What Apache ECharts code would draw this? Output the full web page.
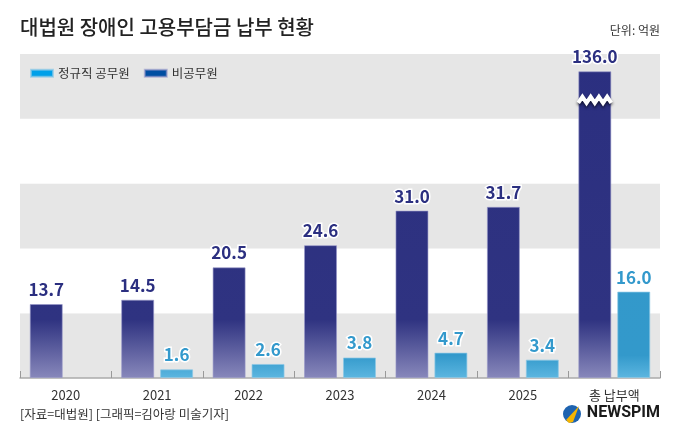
<!DOCTYPE html>
<html style="height: 100%">
<head>
<meta charset="utf-8">
</head>
<body style="height: 100%; margin: 0; background: #fff">
<div id="container" style="width: 680px; height: 442px"></div>
<script type="text/javascript" src="https://cdn.jsdelivr.net/npm/echarts@6/dist/echarts.min.js"></script>
<script type="text/javascript">
var categories = ['2020', '2021', '2022', '2023', '2024', '2025', '총 납부액'];
var nonCivil = [13.7, 14.5, 20.5, 24.6, 31.0, 31.7, 136.0];   // 비공무원
var civil = [null, 1.6, 2.6, 3.8, 4.7, 3.4, 16.0];             // 정규직 공무원
var yMax = 60;
var yStep = 12;
var capValue = 56.8;   // height the broken total bar is drawn to
var breakAt = 51.5;    // where the zigzag cuts the total bar

var font = '"Noto Sans CJK KR", "Noto Sans", sans-serif';
var navy = '#2b2f80';
var sky = '#3399cc';
var gridTop = 54, gridBottom = 64;

var dom = document.getElementById('container');
var myChart = echarts.init(dom, null, { renderer: 'canvas' });

// gradients are laid over the whole plot height, so every bar fades the same way near the base
var plotBottom = 442 - gridBottom;
var navyFill = new echarts.graphic.LinearGradient(0, gridTop, 0, plotBottom, [
    { offset: 0, color: '#2b2f80' },
    { offset: 0.82, color: '#2f3381' },
    { offset: 1, color: '#8888bb' }
], true);
var skyFill = new echarts.graphic.LinearGradient(0, gridTop, 0, plotBottom, [
    { offset: 0, color: '#3398c9' },
    { offset: 0.93, color: '#3399cb' },
    { offset: 1, color: '#5cb6e0' }
], true);

function labelStyle(color) {
    return {
        show: true,
        position: 'top',
        distance: 6,
        color: color,
        fontFamily: font,
        fontSize: 17,
        fontWeight: 'bold',
        textBorderColor: '#fff',
        textBorderWidth: 3
    };
}

var option = {
    animation: false,
    textStyle: { fontFamily: font },
    grid: { left: 20, right: 20, top: gridTop, bottom: gridBottom },
    legend: {
        data: [
            { name: '정규직 공무원', itemStyle: { color: '#00a0e9' } },
            { name: '비공무원', itemStyle: { color: '#004ea2' } }
        ],
        left: 25,
        top: 62,
        itemWidth: 22,
        itemHeight: 7,
        itemGap: 14,
        icon: 'rect',
        textStyle: { fontSize: 12.5, color: '#333', fontFamily: font }
    },
    xAxis: {
        type: 'category',
        data: categories,
        axisLine: { lineStyle: { color: '#aaa', width: 1.5 } },
        axisTick: { show: true, length: 7, inside: true, lineStyle: { color: '#999' } },
        axisLabel: { color: '#333', fontSize: 13, margin: 11, fontFamily: font }
    },
    yAxis: {
        type: 'value',
        min: 0,
        max: yMax,
        interval: yStep,
        axisLabel: { show: false },
        axisLine: { show: false },
        axisTick: { show: false },
        splitLine: { show: false },
        splitArea: { show: true, areaStyle: { color: ['#e6e6e6', '#ffffff'] } }
    },
    series: [
        {
            name: '비공무원',
            type: 'bar',
            barWidth: 33,
            barGap: '18%',
            data: nonCivil.map(function (v) { return Math.min(v, capValue); }),
            itemStyle: { color: navyFill, borderColor: 'rgba(150,150,200,0.6)', borderWidth: 1 },
            label: Object.assign(labelStyle(navy), {
                formatter: function (p) { return nonCivil[p.dataIndex].toFixed(1); }
            })
        },
        {
            name: '정규직 공무원',
            type: 'bar',
            barWidth: 33,
            data: civil,
            itemStyle: { color: skyFill, borderColor: 'rgba(140,200,230,0.7)', borderWidth: 1 },
            label: Object.assign(labelStyle(sky), {
                formatter: function (p) { return civil[p.dataIndex].toFixed(1); }
            })
        }
    ],
    graphic: [
        {
            type: 'text', left: 20, top: 17,
            style: { text: '대법원 장애인 고용부담금 납부 현황', fill: '#222', font: '500 20px ' + font }
        },
        {
            type: 'text', right: 20, top: 24,
            style: { text: '단위: 억원', fill: '#333', font: '12px ' + font }
        },
        {
            type: 'text', left: 20, top: 408,
            style: { text: '[자료=대법원] [그래픽=김아랑 미술기자]', fill: '#333', font: '12.5px ' + font }
        },
        {
            type: 'text', right: 20, top: 405,
            style: { text: 'NEWSPIM', fill: '#1a1a1a', font: 'bold 16px "Liberation Sans Narrow", "Roboto", sans-serif' }
        }
    ]
};
myChart.setOption(option);

// zigzag break on the total bar and the logo mark
var last = categories.length - 1;
var center = myChart.convertToPixel({ xAxisIndex: 0, yAxisIndex: 0 }, [last, breakAt]);
var barLeft = center[0] - 33 - 3;
var pts = [];
for (var i = 0; i <= 8; i++) {
    pts.push([barLeft + i * 33 / 8, center[1] + (i % 2 === 0 ? 3 : -3)]);
}
var logoX = myChart.getWidth() - 20 - 88;
myChart.setOption({
    graphic: option.graphic.concat([
        {
            type: 'polyline', z: 100,
            shape: { points: pts },
            style: { stroke: '#fff', lineWidth: 4, fill: null, shadowColor: 'rgba(0,0,0,0.6)', shadowBlur: 3, shadowOffsetY: 2 }
        },
        {
            type: 'circle', z: 100,
            shape: { cx: logoX, cy: 414, r: 9 },
            style: { fill: '#1e63b0' }
        },
        {
            type: 'polygon', z: 101,
            shape: { points: [[logoX - 6, 420], [logoX + 7, 406], [logoX + 1, 422], [logoX - 3, 423]] },
            style: { fill: '#f5b400' }
        }
    ])
});
</script>
</body>
</html>
